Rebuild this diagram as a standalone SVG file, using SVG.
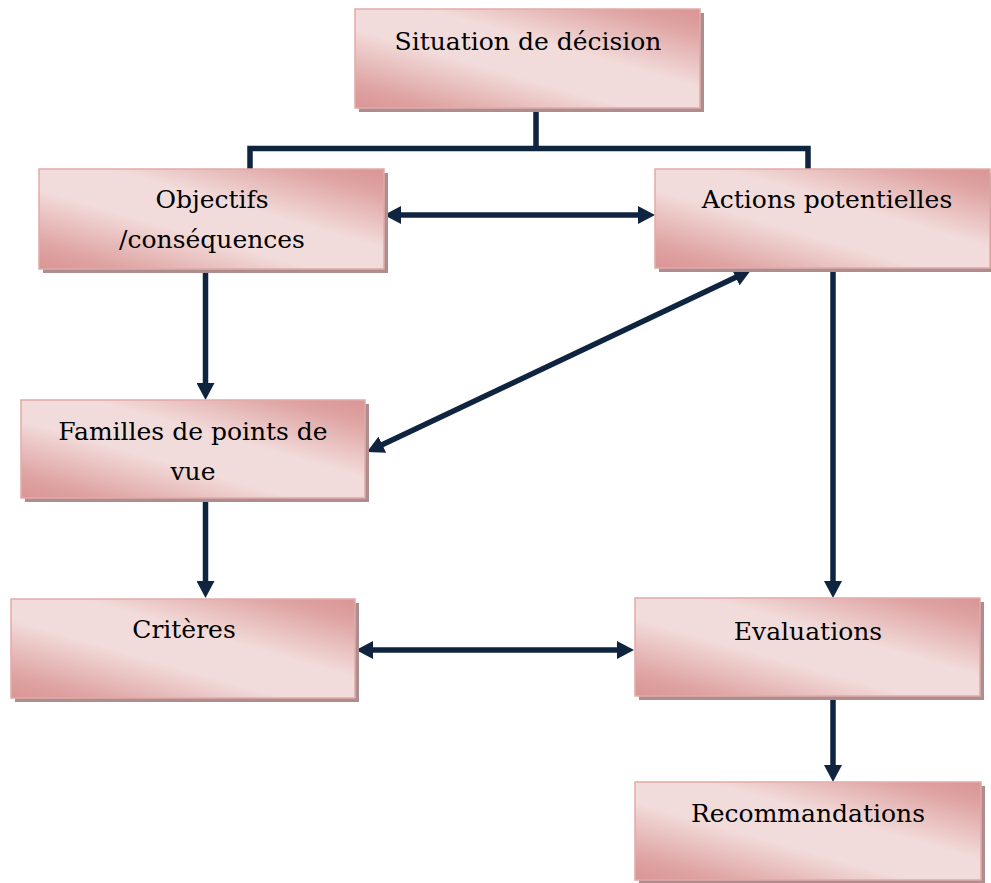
<svg xmlns="http://www.w3.org/2000/svg" width="991" height="883" viewBox="0 0 991 883">
<defs>
<linearGradient id="g" x1="1" y1="0" x2="0" y2="1">
<stop offset="0" stop-color="#d99594"/>
<stop offset="0.12" stop-color="#dea3a2"/>
<stop offset="0.4" stop-color="#f2dcdb"/>
<stop offset="0.6" stop-color="#f2dcdb"/>
<stop offset="0.88" stop-color="#dea3a2"/>
<stop offset="1" stop-color="#d99594"/>
</linearGradient>
<marker id="ah" markerUnits="userSpaceOnUse" markerWidth="18" markerHeight="18" refX="9" refY="9" orient="auto-start-reverse" viewBox="0 0 18 18">
<path d="M0,0 L17,9 L0,18 z" fill="#0f243e"/>
</marker>
</defs>
<style>
.sh{fill:#ad8d8e}
.bx{fill:url(#g);stroke:#e2aaa9;stroke-width:1.5}
.t{font-family:"DejaVu Serif","Liberation Serif",serif;font-size:25px;fill:#000;text-anchor:middle}
.c{fill:none;stroke:#0f243e;stroke-width:5.5}
.a{marker-end:url(#ah)}
.b{marker-start:url(#ah);marker-end:url(#ah)}
</style>
<rect width="991" height="883" fill="#fff"/>
<g id="connectors">
<path class="c" d="M250,170 V148.5 H808 V169 M536,109 V148.5" stroke-linejoin="miter"/>
<path class="c b" d="M392,215 H647"/>
<path class="c a" d="M205.5,270 V392"/>
<path class="c b" d="M374.2,448.6 L743.8,273.4"/>
<path class="c a" d="M205.5,499 V590"/>
<path class="c a" d="M833,268 V590"/>
<path class="c b" d="M364,650 H626"/>
<path class="c a" d="M833,697 V774"/>
</g>
<g id="situation">
<rect class="sh" x="359" y="13" width="345" height="99"/>
<rect class="bx" x="355" y="9" width="345" height="99"/>
<text class="t" x="528" y="50">Situation de décision</text>
</g>
<g id="objectifs">
<rect class="sh" x="43" y="173" width="345" height="100"/>
<rect class="bx" x="39" y="169" width="345" height="100"/>
<text class="t" x="212" y="208">Objectifs</text>
<text class="t" x="212" y="248">/conséquences</text>
</g>
<g id="actions">
<rect class="sh" x="659" y="173" width="335" height="99"/>
<rect class="bx" x="655" y="169" width="335" height="99"/>
<text class="t" x="827" y="208">Actions potentielles</text>
</g>
<g id="familles">
<rect class="sh" x="25" y="404" width="344" height="98"/>
<rect class="bx" x="21" y="400" width="344" height="98"/>
<text class="t" x="193" y="440">Familles de points de</text>
<text class="t" x="193" y="480">vue</text>
</g>
<g id="criteres">
<rect class="sh" x="15" y="603" width="344" height="99"/>
<rect class="bx" x="11" y="599" width="344" height="99"/>
<text class="t" x="184" y="638">Critères</text>
</g>
<g id="evaluations">
<rect class="sh" x="639" y="602" width="345" height="98"/>
<rect class="bx" x="635" y="598" width="345" height="98"/>
<text class="t" x="808" y="640">Evaluations</text>
</g>
<g id="recommandations">
<rect class="sh" x="639" y="786" width="346" height="98"/>
<rect class="bx" x="635" y="782" width="346" height="98"/>
<text class="t" x="808" y="822">Recommandations</text>
</g>
</svg>
